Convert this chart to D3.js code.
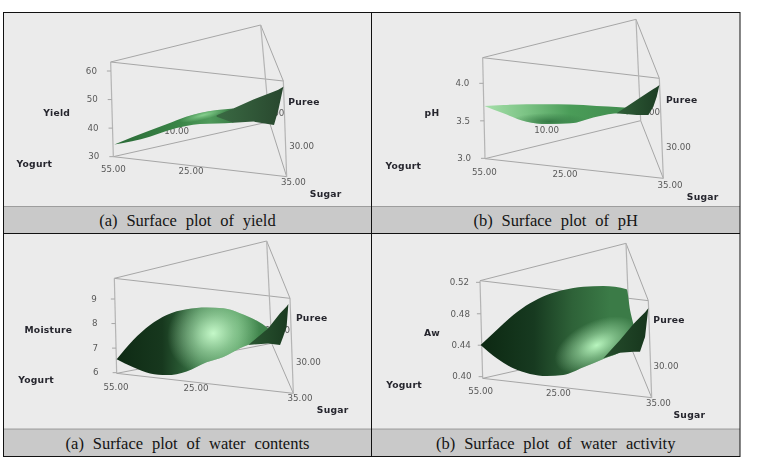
<!DOCTYPE html>
<html><head><meta charset="utf-8">
<script src="https://cdn.jsdelivr.net/npm/d3@7/dist/d3.min.js"></script>
<style>html,body{margin:0;padding:0;background:#fff}svg{display:block}</style>
</head><body><svg id="c" width="758" height="462"></svg>
<script>
// ---- data ----
const captions = ["(a) Surface plot of yield","(b) Surface plot of pH","(a) Surface plot of water contents","(b) Surface plot of water activity"];
const responseNames = ["Yield","pH","Moisture","Aw"];
const cornerLabels = ["55.00","25.00","35.00","30.00","10.00"];
const componentNames = ["Yogurt","Sugar","Puree"];
const yieldTicks = [30,40,50,60];
const phTicks = [3.0,3.5,4.0];
const moistureTicks = [6,7,8,9];
const awTicks = [0.40,0.44,0.48,0.52];
// position along the front axis (%), upper and lower response value of the surface
const yieldBodyAt = [0.6,21,31,42,50,60,69.2];
const yieldBodyHi = [34.3,39.2,41.4,44.0,45.3,46.3,46.9];
const yieldBodyLo = [34.3,37.0,39.1,40.7,41.4,41.6,41.9];
const yieldWingAt = [59.6,69.2,80.8,92.7,95.2,98.1];
const yieldWingHi = [44.5,46.9,50,52.8,53.4,54.5];
const yieldWingLo = [44.0,41.9,42.3,41.1,46.3,54.5];
const phBodyAt = [-0.4,10.3,23.4,34.6,47.7,62.6,75.7,80];
const phBodyHi = [3.698,3.711,3.72,3.72,3.718,3.698,3.68,3.67];
const phBodyLo = [3.698,3.6,3.489,3.458,3.467,3.556,3.6,3.585];
const phWingAt = [73.8,85,91.6,94.4,96.3,97.8];
const phWingHi = [3.6,3.778,3.88,3.924,3.951,3.978];
const phWingLo = [3.6,3.578,3.578,3.689,3.822,3.978];
const moistureBodyAt = [0,9.4,18.9,28.3,39.6,50.9,60.4,69.8,79.2,85.8];
const moistureBodyHi = [6.543,7.33,7.94,8.35,8.58,8.65,8.62,8.42,8.12,7.81];
const moistureBodyLo = [6.543,6.22,5.97,5.9,6.05,6.42,6.64,6.99,7.33,7.81];
const moistureWingAt = [74.5,85.8,92.5,94.3,96.2,97.2];
const moistureWingHi = [7.13,7.81,8.42,8.55,8.69,8.8];
const moistureWingLo = [7.13,7.19,7.13,7.47,7.87,8.8];
const awBodyAt = [-1.2,8.3,18.1,28,37.9,47.7,59.6,71.4,85.2,87.2,89.2];
const awBodyHi = [.4403,.4594,.4784,.4933,.5039,.5102,.5145,.5153,.5111,.4848,.467];
const awBodyLo = [.4403,.4233,.4106,.4034,.4008,.4021,.4119,.4225,.4382,.4509,.467];
const awWingAt = [71.4,81.3,89.2,93.1,96.1,98];
const awWingHi = [.4233,.4466,.467,.4755,.4818,.4869];
const awWingLo = [.4233,.4305,.4318,.4318,.4509,.4869];

// ---- layout (units are thirds of a pixel, local to each panel) ----
const panels = [
 {ox:0,oy:0,ticks:yieldTicks,fmt:d3.format("d"),name:responseNames[0],zr:[470,213],tickShift:3,
  body:[yieldBodyAt,yieldBodyHi,yieldBodyLo],wing:[yieldWingAt,yieldWingHi,yieldWingLo],
  LT:[332,186],LB:[340,470],BT:[782,75],RT:[850,243],RB:[860,530],BB:[808,365],
  nameAt:[170,340],yog:[103,492],a55:[340,508],a25:[573,512],a35:[880,545],sug:[977,582],pur:[912,305],a30:[905,438],a10:[530,392],r10:[853,340],
  stops:[[0,"#2b6a37"],[.55,"#3a8547"],[.8,"#4f9a5b"],[1,"#3b7d47"]],
  glow:{t:52,z:44.6,rx:75,ry:14,rot:-14,c:"#86cf8e"},wingC:["#3a6a43","#28472e"]},
 {ox:370,oy:0,ticks:phTicks,fmt:d3.format(".1f"),name:responseNames[1],zr:[475,250],tickShift:3,
  body:[phBodyAt,phBodyHi,phBodyLo],wing:[phWingAt,phWingHi,phWingLo],
  LT:[338,173],LB:[345,476],BT:[798,58],RT:[868,235],RB:[880,535],BB:[812,362],
  nameAt:[186,338],yog:[100,497],a55:[343,516],a25:[585,521],a35:[900,555],sug:[998,592],pur:[935,300],a30:[925,441],a10:[530,390],r10:[870,336],
  stops:[[0,"#a6dfaa"],[.3,"#7ac283"],[.6,"#4a9c58"],[1,"#418c4e"]],
  glow:{t:36,z:3.49,rx:120,ry:26,rot:0,c:"#367a46"},wingC:["#2f5f38","#1d3d24"]},
 {ox:0,oy:230,ticks:moistureTicks,fmt:d3.format("d"),name:responseNames[2],zr:[428,207],tickShift:7,
  body:[moistureBodyAt,moistureBodyHi,moistureBodyLo],wing:[moistureWingAt,moistureWingHi,moistureWingLo],
  LT:[343,145],LB:[350,430],BT:[800,33],RT:[870,205],RB:[880,490],BB:[815,340],
  nameAt:[145,301],yog:[108,451],a55:[348,470],a25:[588,475],a35:[900,505],sug:[998,541],pur:[935,265],a30:[925,396],a10:[530,380],r10:[870,300],
  stops:[[0,"#0e2a14"],[.3,"#17381e"],[.55,"#3b7a48"],[.8,"#4d9659"],[1,"#3d7f49"]],
  glow:{t:54.7,z:7.6,rx:140,ry:125,rot:-20,c:"#c4f8c8"},wingC:["#2a5732","#1a3a20"]},
 {ox:370,oy:230,ticks:awTicks,fmt:d3.format(".2f"),name:responseNames[3],zr:[440,157],tickShift:0,
  body:[awBodyAt,awBodyHi,awBodyLo],wing:[awWingAt,awWingHi,awWingLo],
  LT:[330,152],LB:[338,445],BT:[768,40],RT:[835,212],RB:[845,503],BB:[780,345],
  nameAt:[186,310],yog:[102,464],a55:[332,483],a25:[565,488],a35:[865,519],sug:[958,556],pur:[897,271],a30:[888,407],a10:[530,400],r10:[825,320],
  stops:[[0,"#0c2812"],[.35,"#173a20"],[.6,"#2e6238"],[.85,"#3b7b47"],[1,"#3b7b47"]],
  glow:{t:67.5,z:.44,rx:135,ry:72,rot:-25,c:"#b8f5be"},wingC:["#254d2c","#17361d"]}
];
const TICK_FONT = "'DejaVu Sans',sans-serif";
const svg = d3.select("#c");
const defs = svg.append("defs");
const soft = defs.append("filter").attr("id","soft").attr("x","-5%").attr("y","-20%").attr("width","110%").attr("height","140%");
soft.append("feGaussianBlur").attr("stdDeviation",0.3);

// table
const cols=[[3.5,371.5],[371.5,740]], rows=[[12.5,206.5,233.5],[234,429,456.5]];
panels.forEach((p,i)=>{
  const [x0,x1]=cols[i%2],[y0,y1,y2]=rows[i>>1];
  svg.append("rect").attr("x",x0).attr("y",y0).attr("width",x1-x0).attr("height",y1-y0).attr("fill","#ebebeb");
  svg.append("rect").attr("x",x0).attr("y",y1).attr("width",x1-x0).attr("height",y2-y1).attr("fill","#c9c9c9");
  svg.append("line").attr("x1",x0).attr("x2",x1).attr("y1",y1).attr("y2",y1).attr("stroke","#8c8c8c").attr("stroke-width",.8);
  svg.append("text").attr("x",(x0+x1)/2).attr("y",(y1+y2)/2+6).attr("text-anchor","middle")
    .attr("font-family","'Liberation Serif',serif").attr("font-size",16.5).attr("word-spacing",4.7).attr("fill","#141414").text(captions[i]);
});
const border=svg.append("g").attr("stroke","#111").attr("stroke-width",1).attr("fill","none");
border.append("rect").attr("x",3.5).attr("y",12.5).attr("width",736.5).attr("height",444);
border.append("line").attr("x1",371.5).attr("x2",371.5).attr("y1",12.5).attr("y2",456.5);
border.append("line").attr("x1",3.5).attr("x2",740).attr("y1",233.5).attr("y2",233.5);

panels.forEach((p,i)=>{
  const g=svg.append("g").attr("transform",`translate(${p.ox},${p.oy})`);
  const px=v=>v/3;
  const x=d3.scaleLinear().domain([0,100]).range([px(p.LB[0]),px(p.RB[0])]);
  const y=d3.scaleLinear().domain(d3.extent(p.ticks)).range(p.zr.map(px));
  const seg=(a,b,w,c)=>g.append("line").attr("x1",px(a[0])).attr("y1",px(a[1])).attr("x2",px(b[0])).attr("y2",px(b[1])).attr("stroke",c||"#a6a6a6").attr("stroke-width",w||1);
  seg(p.LT,p.BT); seg(p.LT,p.RT); seg(p.BT,p.RT); seg(p.LB,p.RB); seg(p.LB,p.BB); seg(p.BB,p.RB);
  seg(p.LT,p.LB,1.2,"#b4b4b4"); seg(p.BT,p.BB,1.2,"#b4b4b4"); seg(p.RT,p.RB,1.2,"#b4b4b4");

  const axis=d3.axisLeft(y).tickValues(p.ticks).tickFormat(p.fmt).tickSize(4).tickPadding(7+p.tickShift);
  const ag=g.append("g").attr("transform",`translate(${px(p.LT[0])},0)`).call(axis);
  ag.select(".domain").remove();
  // the z axis leans slightly: move each tick along the drawn edge
  ag.selectAll(".tick").attr("transform",d=>{
    const yy=y(d), f=(yy-px(p.LT[1]))/(px(p.LB[1])-px(p.LT[1]));
    return `translate(${f*(px(p.LB[0])-px(p.LT[0]))},${yy})`;
  });
  ag.selectAll("line").attr("stroke","#a6a6a6");
  ag.selectAll("text").attr("font-family",TICK_FONT).attr("font-size",8.7).attr("fill","#5a5a5a").attr("filter","url(#soft)");

  const txt=(pos,s,bold,anchor)=>g.append("text").attr("x",px(pos[0])).attr("y",px(pos[1])+3).attr("text-anchor",anchor||"middle")
    .attr("font-family",TICK_FONT).attr("font-size",bold?9.2:8.7).attr("letter-spacing",bold?0.25:0).attr("font-weight",bold?"bold":"normal")
    .attr("fill",bold?"#26262e":"#5a5a5a").attr("filter","url(#soft)").text(s);
  txt(p.a55,cornerLabels[0]); txt(p.a25,cornerLabels[1]); txt(p.a35,cornerLabels[2]); txt(p.a30,cornerLabels[3]);
  txt(p.a10,cornerLabels[4]); txt(p.r10,cornerLabels[4],false,"end");
  txt(p.nameAt,p.name,true); txt(p.yog,componentNames[0],true); txt(p.sug,componentNames[1],true);
  txt(p.pur,componentNames[2],true);

  const area=(arr,curve)=>d3.area().x((d,k)=>x(arr[0][k])).y0((d,k)=>y(arr[2][k])).y1((d,k)=>y(arr[1][k])).curve(curve)(arr[0]);
  const bodyPath=area(p.body,d3.curveMonotoneX);
  const gid="bg"+i,cid="cp"+i,rid="rg"+i,wid="wg"+i;
  const lg=defs.append("linearGradient").attr("id",gid).attr("x1",0).attr("y1",0).attr("x2",1).attr("y2",0);
  p.stops.forEach(s=>lg.append("stop").attr("offset",s[0]).attr("stop-color",s[1]));
  defs.append("clipPath").attr("id",cid).append("path").attr("d",bodyPath);
  const rg=defs.append("radialGradient").attr("id",rid);
  rg.append("stop").attr("offset",0).attr("stop-color",p.glow.c).attr("stop-opacity",1);
  rg.append("stop").attr("offset",.45).attr("stop-color",p.glow.c).attr("stop-opacity",.5);
  rg.append("stop").attr("offset",1).attr("stop-color",p.glow.c).attr("stop-opacity",0);
  const wg=defs.append("linearGradient").attr("id",wid).attr("x1",0).attr("y1",0).attr("x2",1).attr("y2",0);
  wg.append("stop").attr("offset",0).attr("stop-color",p.wingC[0]);
  wg.append("stop").attr("offset",1).attr("stop-color",p.wingC[1]);

  g.append("path").attr("d",bodyPath).attr("fill",`url(#${gid})`);
  const cg=g.append("g").attr("clip-path",`url(#${cid})`);
  const cx=x(p.glow.t),cy=y(p.glow.z);
  cg.append("ellipse").attr("cx",cx).attr("cy",cy).attr("rx",px(p.glow.rx)).attr("ry",px(p.glow.ry))
    .attr("transform",`rotate(${p.glow.rot} ${cx} ${cy})`).attr("fill",`url(#${rid})`);
  g.append("path").attr("d",area(p.wing,d3.curveLinear)).attr("fill",`url(#${wid})`);
});
</script></body></html>
